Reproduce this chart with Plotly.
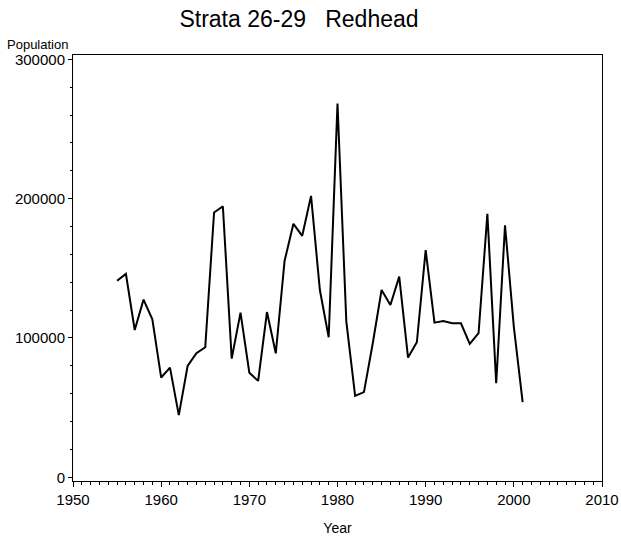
import plotly.graph_objects as go

years = list(range(1955, 2002))
population = [141000, 146000, 105700, 127500, 113400, 71600, 78700, 44600, 79900, 89000,
              93300, 190100, 194400, 85200, 118200, 75100, 69200, 118600, 89000, 155400,
              181900, 173300, 202000, 134400, 100500, 268200, 111700, 58400, 61100, 96200,
              134400, 123700, 144000, 85900, 96900, 163100, 111000, 112200, 110500, 110500,
              95700, 103400, 189100, 67500, 180800, 108000, 53900]

title_text = "Strata 26-29   Redhead"
x_label = "Year"
y_label = "Population"
x_ticks = [1950, 1960, 1970, 1980, 1990, 2000, 2010]
y_ticks = [0, 100000, 200000, 300000]

FONT = "Liberation Sans, Arial, sans-serif"

fig = go.Figure()
fig.add_trace(go.Scatter(x=years, y=population, mode="lines",
                         line=dict(color="black", width=2), showlegend=False))

L, R, T, B = 73, 19, 55, 59
W, H = 621, 540

fig.update_layout(
    width=W, height=H,
    margin=dict(l=L, r=R, t=T, b=B, pad=0, autoexpand=False),
    paper_bgcolor="white", plot_bgcolor="white",
    font=dict(family=FONT, color="black", size=15),
    title=dict(text=title_text, x=299 / W, xref="container", xanchor="center",
               y=1 - 19 / H, yref="container", yanchor="middle",
               font=dict(size=23, family=FONT, color="black")),
    xaxis=dict(range=[1950, 2010], tickvals=x_ticks, tickformat="d", ticks="outside", ticklen=5,
               tickcolor="black", showline=True, linecolor="black", linewidth=1,
               mirror=True, showgrid=False, zeroline=False, automargin=False,
               tickfont=dict(size=15, family=FONT),
               minor=dict(dtick=1, ticks="outside", ticklen=3, tickcolor="black", showgrid=False),
               title=dict(text=x_label, font=dict(size=14, family=FONT), standoff=16)),
    yaxis=dict(range=[-2660, 303090], tickvals=y_ticks, tickformat="d", ticks="outside", ticklen=4,
               tickcolor="black", showline=True, linecolor="black", linewidth=1,
               mirror=True, showgrid=False, zeroline=False, automargin=False,
               tickfont=dict(size=15, family=FONT),
               minor=dict(dtick=20000, ticks="outside", ticklen=2, tickcolor="black", showgrid=False)),
    annotations=[dict(text=y_label, xref="paper", yref="paper", x=0, y=1,
                      xanchor="right", yanchor="middle", xshift=-3, yshift=11,
                      showarrow=False, font=dict(size=13, family=FONT))],
)

fig.write_html("out.html",
               config={"displayModeBar": False},
               post_script="document.body.style.margin='0';document.body.style.overflow='hidden';")
